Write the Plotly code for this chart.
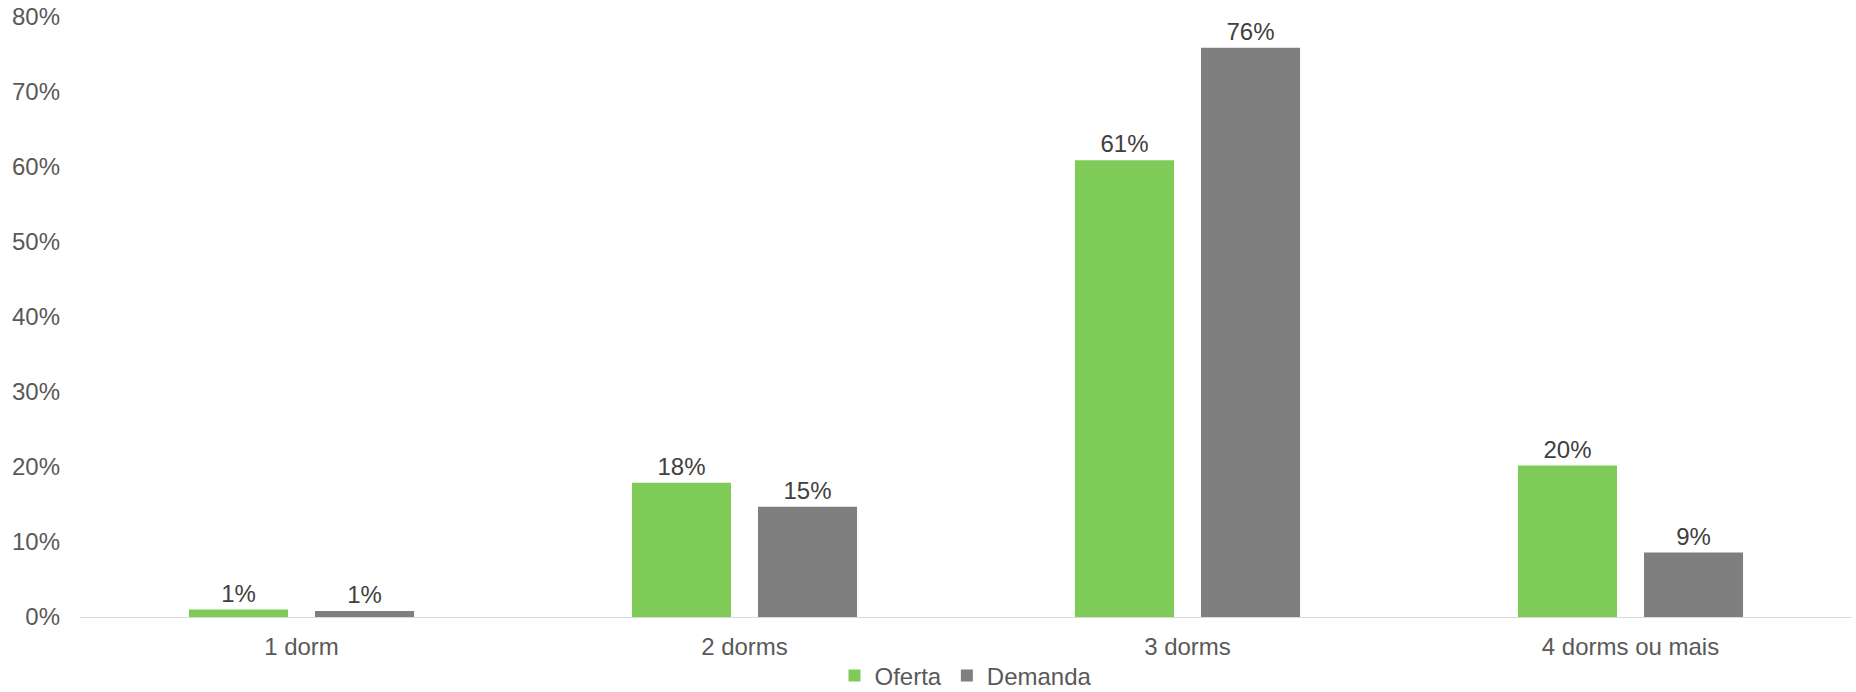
import plotly.graph_objects as go

categories = ["1 dorm", "2 dorms", "3 dorms", "4 dorms ou mais"]
oferta = [1.0, 17.9, 60.9, 20.2]
demanda = [0.8, 14.7, 75.9, 8.6]
oferta_labels = ["1%", "18%", "61%", "20%"]
demanda_labels = ["1%", "15%", "76%", "9%"]

FONT = "Liberation Sans, Arial, sans-serif"
TXT = "#595959"
FS = 24

fig = go.Figure()
fig.add_trace(go.Bar(name="Oferta", x=categories, y=oferta, text=oferta_labels,
                     textposition="outside", marker=dict(color="#7ECB58", line=dict(width=0)),
                     textfont=dict(size=FS, color="#404040", family=FONT), cliponaxis=False))
fig.add_trace(go.Bar(name="Demanda", x=categories, y=demanda, text=demanda_labels,
                     textposition="outside", marker=dict(color="#7F7F7F", line=dict(width=0)),
                     textfont=dict(size=FS, color="#404040", family=FONT), cliponaxis=False))

fig.update_layout(
    width=1856, height=692,
    margin=dict(l=80, r=4, t=17, b=75, autoexpand=False),
    paper_bgcolor="white", plot_bgcolor="white",
    barmode="group", bargap=0.431, bargroupgap=0.214,
    font=dict(family=FONT, size=FS, color=TXT),
    showlegend=True,
    legend=dict(orientation="h", x=0.5, xanchor="center", y=-0.098, yanchor="middle",
                font=dict(size=FS, color=TXT), itemwidth=30, tracegroupgap=0,
                borderwidth=0),
    xaxis=dict(showgrid=False, showline=True, linecolor="#D9D9D9", linewidth=1,
               ticks="", tickfont=dict(size=FS, color=TXT), ticklabelstandoff=8,
               automargin=False),
    yaxis=dict(range=[0, 80], dtick=10, ticksuffix="%", showgrid=False, zeroline=False,
               showline=False, ticks="", tickfont=dict(size=FS, color=TXT),
               ticklabelstandoff=19, automargin=False),
    uniformtext=dict(mode=False),
)

fig.write_html(
    "out.html",
    config={"displayModeBar": False},
    post_script="document.body.style.margin='0';document.documentElement.style.overflow='hidden';",
)
